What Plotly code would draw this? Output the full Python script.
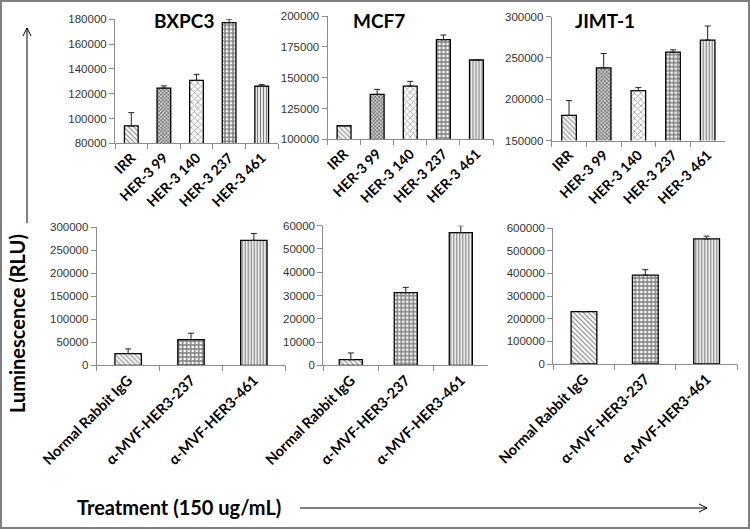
import plotly.graph_objects as go

# ---------------- data ----------------
top_cats = ["IRR", "HER-3 99", "HER-3 140", "HER-3 237", "HER-3 461"]
bottom_cats = ["Normal Rabbit IgG", "α-MVF-HER3-237", "α-MVF-HER3-461"]
titles = ["BXPC3", "MCF7", "JIMT-1"]

bxpc3_top = [94000, 124500, 130800, 177300, 126000]
bxpc3_top_err = [10700, 1800, 4800, 2700, 1300]
mcf7_top = [111000, 136500, 143200, 180800, 164300]
mcf7_top_err = [0, 4000, 3800, 3800, 0]
jimt_top = [180400, 238000, 210400, 257000, 271700]
jimt_top_err = [17900, 17400, 3700, 2900, 17000]

bxpc3_bot = [25400, 55800, 271000]
bxpc3_bot_err = [10100, 13800, 15000]
mcf7_bot = [2400, 31200, 57000]
mcf7_bot_err = [2900, 2300, 3000]
jimt_bot = [231000, 392000, 552000]
jimt_bot_err = [0, 24000, 12000]

W, H = 750, 529


def px(x):
    return x / W


def py(y):
    return 1 - y / H


# patterns (style)
top_pattern = dict(
    shape=["\\", "x", "x", "+", "|"],
    size=[3.5, 2.6, 4.5, 4, 3],
    solidity=[0.4, 0.7, 0.35, 0.62, 0.45],
    fgcolor=["#333333", "#000000", "#444444", "#000000", "#000000"],
    bgcolor="white",
    fillmode="overlay",
)
bot_pattern = dict(
    shape=["\\", "+", "|"],
    size=[3.5, 4, 3],
    solidity=[0.4, 0.62, 0.45],
    fgcolor=["#333333", "#000000", "#000000"],
    bgcolor="white",
    fillmode="overlay",
)

panels = [
    (top_cats, bxpc3_top, bxpc3_top_err, top_pattern, (115, 278), (143.3, 19.3), (80000, 180000), 20000),
    (top_cats, mcf7_top, mcf7_top_err, top_pattern, (327.5, 493), (139.3, 16), (100000, 200000), 25000),
    (top_cats, jimt_top, jimt_top_err, top_pattern, (551.7, 725), (140.5, 16.7), (150000, 300000), 50000),
    (bottom_cats, bxpc3_bot, bxpc3_bot_err, bot_pattern, (96.7, 285.3), (365.3, 227), (0, 300000), 50000),
    (bottom_cats, mcf7_bot, mcf7_bot_err, bot_pattern, (323.3, 488.3), (365.3, 225.7), (0, 60000), 10000),
    (bottom_cats, jimt_bot, jimt_bot_err, bot_pattern, (553.3, 737.3), (364, 228), (0, 600000), 100000),
]

fig = go.Figure()
layout_axes = {}
bold_font = dict(family="Lato, Open Sans, sans-serif", weight="bold", color="black")
axis_col = "#8c8c8c"

for i, (cats, vals, errs, pat, xd, yd, rng, dt) in enumerate(panels, start=1):
    xa = "x" if i == 1 else f"x{i}"
    ya = "y" if i == 1 else f"y{i}"
    fig.add_trace(go.Bar(
        x=cats, y=vals, xaxis=xa, yaxis=ya, width=0.42,
        marker=dict(color="white", line=dict(color="black", width=1.3), pattern=pat),
        error_y=dict(type="data", symmetric=False, array=errs,
                     arrayminus=[0] * len(errs), color="#222222",
                     thickness=1, width=3),
        hoverinfo="skip",
    ))
    xkey = "xaxis" if i == 1 else f"xaxis{i}"
    ykey = "yaxis" if i == 1 else f"yaxis{i}"
    fsize = 14 if i <= 3 else 14.5
    layout_axes[xkey] = dict(
        domain=[px(xd[0]), px(xd[1])], anchor=ya, type="category",
        range=[-0.5, len(cats) - 0.5],
        showline=True, linecolor=axis_col, linewidth=1,
        ticks="outside", ticklen=5, tickcolor=axis_col, tickson="boundaries",
        tickangle=-45, tickfont=dict(size=fsize, **bold_font),
        showgrid=False, zeroline=False, automargin=False,
    )
    layout_axes[ykey] = dict(
        domain=[py(yd[0]), py(yd[1])], anchor=xa,
        range=list(rng), tick0=rng[0], dtick=dt, tickformat="d",
        showline=True, linecolor=axis_col, linewidth=1,
        ticks="outside", ticklen=5, tickcolor=axis_col,
        tickfont=dict(family="Liberation Sans, Arial, sans-serif", size=11.5, color="#333333"),
        showgrid=False, zeroline=False, automargin=False,
    )

title_pos = [(184, 20), (379, 20), (605, 20)]
annotations = []
for t, (tx, ty) in zip(titles, title_pos):
    annotations.append(dict(text=t, x=px(tx), y=py(ty), xref="paper", yref="paper",
                            showarrow=False, xanchor="center", yanchor="middle",
                            font=dict(size=19, **bold_font)))
annotations.append(dict(text="Luminescence (RLU)", x=px(17), y=py(324), xref="paper", yref="paper",
                        showarrow=False, xanchor="center", yanchor="middle", textangle=-90,
                        font=dict(size=20, **bold_font)))
annotations.append(dict(text="Treatment (150 ug/mL)", x=px(179), y=py(507), xref="paper", yref="paper",
                        showarrow=False, xanchor="center", yanchor="middle",
                        font=dict(size=20, **bold_font)))


def seg(x0, y0, x1, y1, color="black", width=1):
    return dict(type="line", xref="paper", yref="paper",
                x0=px(x0), y0=py(y0), x1=px(x1), y1=py(y1),
                line=dict(color=color, width=width))


shapes = [
    dict(type="rect", xref="paper", yref="paper", x0=px(1), x1=px(749), y0=py(528), y1=py(1),
         line=dict(color="#7f7f7f", width=2), fillcolor="rgba(0,0,0,0)"),
    # vertical arrow
    seg(27, 223, 27, 28), seg(27, 28, 23, 36), seg(27, 28, 31, 36),
    # horizontal arrow
    seg(300, 508, 707, 508), seg(707, 508, 699, 504), seg(707, 508, 699, 512),
]

fig.update_layout(
    width=W, height=H, margin=dict(l=0, r=0, t=0, b=0),
    template="none", showlegend=False,
    paper_bgcolor="white", plot_bgcolor="white",
    annotations=annotations, shapes=shapes, bargap=0.5,
    **layout_axes,
)

fig.write_html("out.html",
               config={"displayModeBar": False, "staticPlot": True},
               post_script="document.body.style.margin='0';document.body.style.overflow='hidden';")
